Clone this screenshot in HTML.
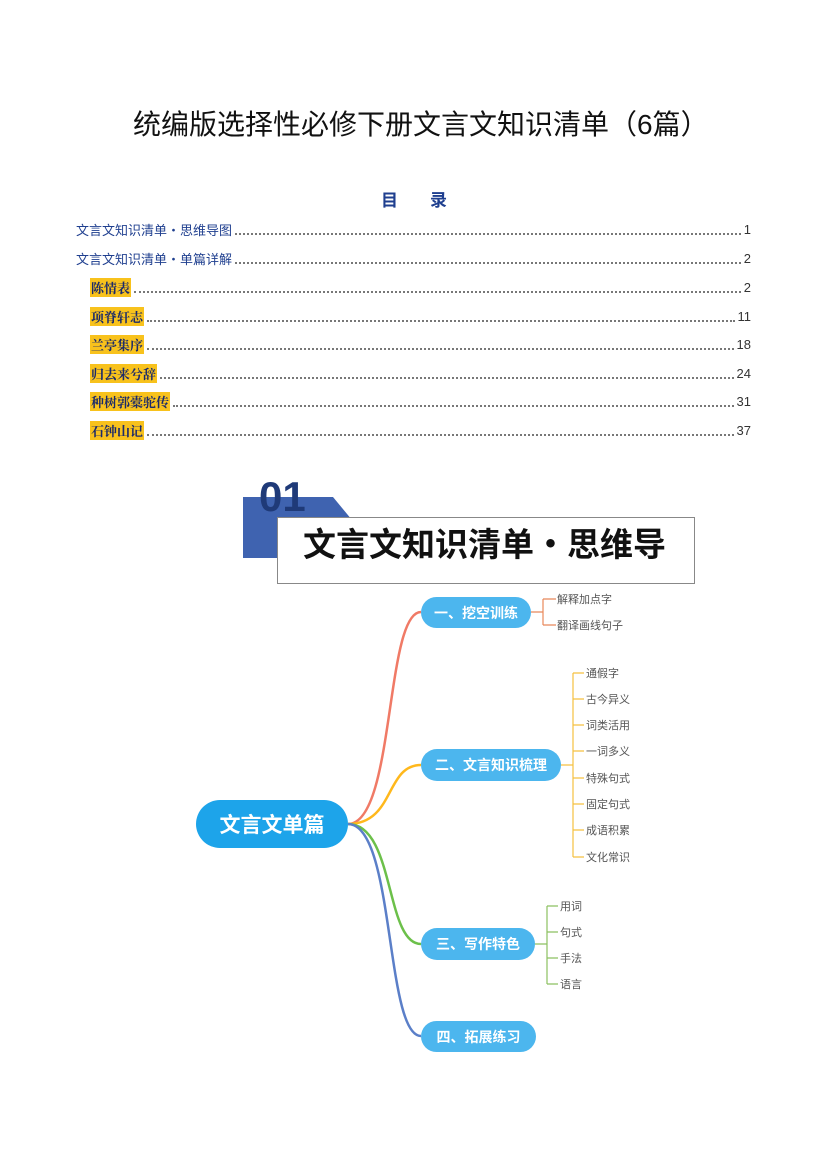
<!DOCTYPE html>
<html><head><meta charset="utf-8"><style>
body{margin:0;background:#fff;}
#p{position:relative;width:827px;height:1169px;overflow:hidden;font-family:"Liberation Sans","Noto Sans CJK SC",sans-serif;}
.a{position:absolute;white-space:nowrap;}
.toc{position:absolute;left:76px;width:675px;height:18px;font-size:13px;color:#1f3f8f;display:flex;align-items:center;}
.toc .d{flex:1;border-bottom:2px dotted #777;margin:0 3px;height:9px;}
.toc .n{color:#333;}
.hl{background:#f8c21c;color:#1b2a6a;font-weight:bold;font-family:"Noto Serif CJK SC",serif;padding:0 1px;}
.sub{left:90px;width:661px;}
.bn{position:absolute;background:#4cb6ee;color:#fff;font-weight:bold;font-size:14px;border-radius:16px;display:flex;align-items:center;justify-content:center;}
.lf{position:absolute;font-size:11px;color:#555;}
</style></head><body><div id="p">
<div class="a" style="left:133px;width:564px;text-align:center;top:103px;font-size:28px;color:#111;">统编版选择性必修下册文言文知识清单（6篇）</div>
<div class="a" style="left:381px;top:186px;font-size:17px;font-weight:bold;color:#1f3f8f;">目</div>
<div class="a" style="left:430px;top:186px;font-size:17px;font-weight:bold;color:#1f3f8f;">录</div>
<div class="toc" style="top:220px;"><span>文言文知识清单・思维导图</span><span class="d"></span><span class="n">1</span></div>
<div class="toc" style="top:249px;"><span>文言文知识清单・单篇详解</span><span class="d"></span><span class="n">2</span></div>
<div class="toc sub" style="top:278px;"><span class="hl">陈情表</span><span class="d"></span><span class="n">2</span></div>
<div class="toc sub" style="top:307px;"><span class="hl">项脊轩志</span><span class="d"></span><span class="n">11</span></div>
<div class="toc sub" style="top:335px;"><span class="hl">兰亭集序</span><span class="d"></span><span class="n">18</span></div>
<div class="toc sub" style="top:364px;"><span class="hl">归去来兮辞</span><span class="d"></span><span class="n">24</span></div>
<div class="toc sub" style="top:392px;"><span class="hl">种树郭橐驼传</span><span class="d"></span><span class="n">31</span></div>
<div class="toc sub" style="top:421px;"><span class="hl">石钟山记</span><span class="d"></span><span class="n">37</span></div>

<svg class="a" style="left:0;top:0" width="827" height="1169">
<polygon points="243,497 333,497 352,520 352,558 243,558" fill="#3f63b0"/>
</svg>
<div class="a" style="left:259px;top:474px;font-size:42px;font-weight:bold;color:#1f3a78;line-height:46px;">01</div>
<div class="a" style="left:277px;top:517px;width:416px;height:65px;background:#fff;border:1px solid #888;"></div>
<div class="a" style="left:303px;top:525px;font-size:33px;font-weight:bold;color:#111;line-height:40px;">文言文知识清单・思维导</div>

<svg class="a" style="left:0;top:0" width="827" height="1169" fill="none">
<path d="M348,824 C395,824 385,612 421,612" stroke="#f07a66" stroke-width="2.5"/>
<path d="M348,824 C395,824 385,765 421,765" stroke="#ffb81c" stroke-width="2.5"/>
<path d="M348,824 C395,824 385,944 421,944" stroke="#6cc04a" stroke-width="2.5"/>
<path d="M348,824 C395,824 385,1036 421,1036" stroke="#5b7fc8" stroke-width="2.5"/>
<g stroke="#e8885a" stroke-width="1.2"><path d="M531,612 H543 M543,599 V625"/><path d="M543,599 H556 M543,625 H556"/></g>
<g stroke="#f5c040" stroke-width="1.2"><path d="M561,765 H573 M573,673 V857"/>
<path d="M573,673 H584 M573,699 H584 M573,725 H584 M573,751 H584 M573,778 H584 M573,804 H584 M573,830 H584 M573,857 H584"/></g>
<g stroke="#8cc060" stroke-width="1.2"><path d="M535,944 H547 M547,906 V984 M547,906 H558 M547,932 H558 M547,958 H558 M547,984 H558"/></g>
</svg>
<div class="bn" style="left:196px;top:800px;width:152px;height:48px;border-radius:24px;background:#1da4ea;font-size:21px;">文言文单篇</div>
<div class="bn" style="left:421px;top:597px;width:110px;height:31px;">一、挖空训练</div>
<div class="bn" style="left:421px;top:749px;width:140px;height:32px;">二、文言知识梳理</div>
<div class="bn" style="left:421px;top:928px;width:114px;height:32px;">三、写作特色</div>
<div class="bn" style="left:421px;top:1021px;width:115px;height:31px;">四、拓展练习</div>
<div class="lf" style="left:557px;top:591px;">解释加点字</div>
<div class="lf" style="left:557px;top:617px;">翻译画线句子</div>
<div class="lf" style="left:586px;top:665px;">通假字</div>
<div class="lf" style="left:586px;top:691px;">古今异义</div>
<div class="lf" style="left:586px;top:717px;">词类活用</div>
<div class="lf" style="left:586px;top:743px;">一词多义</div>
<div class="lf" style="left:586px;top:770px;">特殊句式</div>
<div class="lf" style="left:586px;top:796px;">固定句式</div>
<div class="lf" style="left:586px;top:822px;">成语积累</div>
<div class="lf" style="left:586px;top:849px;">文化常识</div>
<div class="lf" style="left:560px;top:898px;">用词</div>
<div class="lf" style="left:560px;top:924px;">句式</div>
<div class="lf" style="left:560px;top:950px;">手法</div>
<div class="lf" style="left:560px;top:976px;">语言</div>
</div></body></html>
